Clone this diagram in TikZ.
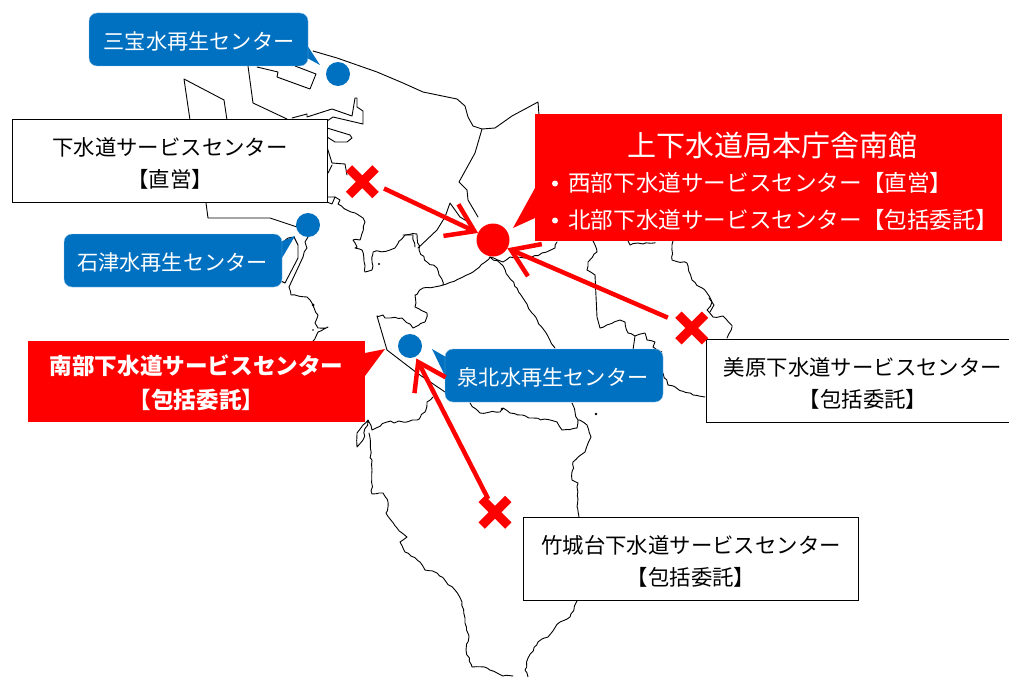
\documentclass[tikz,border=0pt]{standalone}
\usepackage{fontspec}
\setmainfont{Noto Sans CJK JP}
\usetikzlibrary{arrows.meta,shapes.misc,calc,decorations.pathmorphing}
\definecolor{wblue}{HTML}{0070C0}
\definecolor{wedge}{HTML}{8FC0E6}
\definecolor{hqred}{HTML}{FF0000}
\pgfmathsetseed{7}
\tikzset{
  x=1pt,y=-1pt,
  coast/.style={draw=black,line width=0.9pt,line join=round,line cap=round},
  jag/.style={coast,decorate,decoration={random steps,segment length=4pt,amplitude=1pt}},
  whitebox/.style={draw=black,fill=white,line width=1pt,inner sep=0},
  boxtext/.style={inner sep=0,align=center,text=black,font=\fontsize{21.4}{32}\selectfont},
  bluebox/.style={fill=wblue,draw=wedge,line width=0.4pt,rounded corners=8pt,inner sep=0},
  bluetext/.style={inner sep=0,text=white,font=\fontsize{21.2}{26}\selectfont},
  redbox/.style={fill=hqred,inner sep=0},
  bluetail/.style={fill=wblue},
  redtail/.style={fill=hqred},
  bluedot/.style={circle,fill=wblue,inner sep=0,outer sep=2pt,minimum size=24pt},
  reddot/.style={circle,fill=hqred,inner sep=0,outer sep=0,minimum size=33pt},
  xmark/.style={cross out,draw=hqred,line width=9pt,minimum size=26.6pt,inner sep=0,outer sep=0},
  flow/.style={draw=hqred,line width=4.5pt,-{Straight Barb[length=26pt,width=35pt,line width=4.5pt]}},
  plain/.style={inner sep=0,text=white,font=\fontsize{22.6}{26}\selectfont,anchor=west},
  bullet/.style={circle,fill=white,inner sep=0,minimum size=6pt},
}
\begin{document}
\begin{tikzpicture}
\useasboundingbox (0,0) rectangle (1009,677);
% ---- map ----
\draw[coast] (313,51) -- (337,58) -- (377,72) -- (403,83) -- (423,92) -- (457,99) -- (465,106) -- (468,117) -- (473,126) -- (482,129) -- (495,128) -- (512,116) -- (538,102) -- (539,115);
\draw[coast] (482,129) -- (475,153) -- (459,182) -- (467,190) -- (468,200) -- (478,217);
\draw[coast] (418,248) -- (437,230) -- (445,217) -- (450,203) -- (460,217) -- (470,223);
\draw[coast] (248,66) -- (253,103) -- (287,119);
\draw[coast] (257,67) -- (278,72) -- (277,77) -- (310,89) -- (316,74) -- (295,66);
\draw[coast] (292,118) -- (307,114) -- (307,117) -- (332,109) -- (352,116) -- (355,98) -- (357,98) -- (357,107) -- (363,111) -- (363,124) -- (333,117) -- (327,121);
\draw[coast] (327,128) -- (350,135) -- (352,138) -- (347,142) -- (335,142) -- (327,137);
\draw[coast] (190,120) -- (184,79) -- (224,100) -- (227,120);
\draw[coast] (327,147) -- (332,163) -- (345,164) -- (347,175);
\draw[coast] (332,165) -- (328,173);
\draw[coast] (327,197) -- (335,197) -- (332,204) -- (327,202);
\draw[jag] (335,197) -- (340,200) -- (338,204) -- (347,210) -- (363,218) -- (365,222) -- (360,240) -- (353,240) -- (357,247) -- (355,248) -- (362,250) -- (365,272) -- (372,270) -- (373,252) -- (390,250) -- (395,248) -- (405,235) -- (417,234) -- (419,250) -- (427,262) -- (437,268) -- (443,285);
\draw[jag] (403,235) -- (413,235) -- (415,247);
\draw[jag] (443,285) -- (463,277) -- (473,272) -- (490,257) -- (500,263) -- (517,288) -- (532,313) -- (555,348);
\draw[jag] (490,257) -- (503,262) -- (510,257) -- (515,258) -- (530,258) -- (542,253) -- (555,248) -- (557,242);
% south-west
\draw[jag] (443,285) -- (423,288) -- (415,295) -- (415,307) -- (427,313) -- (425,322) -- (413,328) -- (402,318) -- (385,318) -- (383,315) -- (377,316);
\draw[coast] (377,316) -- (387,350) -- (417,373) -- (445,392);
\draw[jag] (470,403) -- (480,413) -- (500,412) -- (503,408) -- (510,413) -- (533,418) -- (557,422) -- (562,430) -- (577,428) -- (578,420) -- (575,412) -- (572,403);
\draw[jag] (433,397) -- (427,402) -- (425,412) -- (417,420) -- (403,422) -- (387,422) -- (372,430) -- (368,420) -- (363,425) -- (357,433) -- (357,447) -- (363,440) -- (368,420);
\draw[jag] (369,433) -- (372,470) -- (372,494) -- (383,493) -- (388,502) -- (386,513) -- (397,528) -- (407,537) -- (400,542) -- (405,552) -- (420,562) -- (425,570) -- (437,573) -- (455,590) -- (462,602) -- (465,623) -- (469,637) -- (466,650) -- (472,667) -- (487,668) -- (503,676) -- (513,676);
\draw[jag] (528,677) -- (525,670) -- (528,658) -- (538,642) -- (548,637) -- (560,622) -- (570,617) -- (577,601);
\draw[jag] (579,517) -- (577,507) -- (578,483) -- (572,480) -- (573,462) -- (585,452) -- (591,437) -- (587,425) -- (578,420);
% east
\draw[jag] (593,241) -- (597,252) -- (588,262) -- (587,270) -- (595,275);
\draw[coast] (595,275) -- (597,317) -- (600,328);
\draw[jag] (600,328) -- (620,320) -- (625,322) -- (628,333) -- (635,336) -- (645,333) -- (647,340) -- (655,342) -- (653,347) -- (662,352);
\draw[coast] (635,336) -- (633,350);
\draw[jag] (663,373) -- (668,385) -- (693,395) -- (705,397);
\draw[jag] (628,241) -- (630,245) -- (638,243) -- (643,244) -- (653,243) -- (654,241);
\draw[jag] (673,241) -- (672,260) -- (687,263) -- (692,280) -- (707,293) -- (712,302) -- (707,310) -- (713,317) -- (723,316) -- (732,327) -- (727,338);
\draw[coast] (709,298) -- (714,305) -- (710,312);
% west coast
\draw[coast] (206,203) -- (208,218) -- (270,218) -- (297,227);
\draw[jag] (308,237) -- (305,242) -- (307,248) -- (303,257);
\draw[coast] (303,257) -- (289,287);
\draw[jag] (289,287) -- (291,295) -- (307,297) -- (313,305) -- (318,315) -- (315,323) -- (318,328) -- (328,327) -- (318,332) -- (313,341);
\draw[coast] (283,242) -- (288,238) -- (294,237) -- (298,245) -- (298,258) -- (285,283) -- (281,281);
\fill (313,305) circle (1.5pt) (313,330) circle (0.9pt) (379,264) circle (1.2pt) (596,414) circle (1.3pt) (502,409) circle (1.3pt);
% ---- white boxes ----
\node[whitebox,minimum width=315pt,minimum height=83pt] (sc) at (170,160.5) {};
\node[boxtext] (sct) at (170,163.5) {下水道サービスセンター\\【直営】};
\node[whitebox,minimum width=304pt,minimum height=83pt,anchor=north west] (mihara) at (705.5,338.5) {};
\node[boxtext] (miharat) at (863,383) {美原下水道サービスセンター\\【包括委託】};
\node[whitebox,minimum width=335.5pt,minimum height=83pt] (take) at (691,558.5) {};
\node[boxtext] (taket) at (691,561.5) {竹城台下水道サービスセンター\\【包括委託】};
% ---- red callouts ----
\fill[redtail] (535,188) -- (513,228) -- (535,218) -- cycle;
\node[redbox,minimum width=467pt,minimum height=127pt] (hqbox) at (768.5,177.5) {};
\node[inner sep=0,text=white,font=\fontsize{29}{34}\selectfont] (hqt) at (772.5,145) {上下水道局本庁舎南館};
\node[bullet] (b1) at (555,183.5) {};
\node[plain] (l1) at (568,182.5) {西部下水道サービスセンター【直営】};
\node[bullet] (b2) at (555,220.5) {};
\node[plain] (l2) at (568,219.5) {北部下水道サービスセンター【包括委託】};
\fill[redtail] (365,353) -- (385,349) -- (365,376) -- cycle;
\node[redbox,minimum width=337pt,minimum height=81pt] (south) at (196.5,381.5) {};
\node[inner sep=0,text=white,align=center,font=\bfseries\fontsize{22.6}{34}\selectfont] (southt) at (196.5,383) {南部下水道サービスセンター\\【包括委託】};
% ---- blue callouts ----
\fill[bluetail] (307,45) -- (320,65) -- (307,58) -- cycle;
\node[bluebox,minimum width=219pt,minimum height=53pt] (sanpo) at (198.5,39.5) {};
\node[bluetext] (sanpot) at (199,41) {三宝水再生センター};
\fill[bluetail] (280,242) -- (295,236) -- (282,258) -- cycle;
\node[bluebox,minimum width=218pt,minimum height=53pt] (ishizu) at (173,260.5) {};
\node[bluetext] (ishizut) at (172.5,262) {石津水再生センター};
\fill[bluetail] (446,357) -- (432,349) -- (446,378) -- cycle;
\node[bluebox,minimum width=218pt,minimum height=53pt] (senboku) at (554,375.5) {};
\node[bluetext] (senbokut) at (553,377) {泉北水再生センター};
% ---- dots ----
\node[bluedot] (d1) at (338,74) {};
\node[bluedot] (d2) at (308,225) {};
\node[bluedot] (d3) at (410,346) {};
\node[reddot] (hq) at (493,240) {};
% ---- crosses ----
\node[xmark] (x1) at (362.3,181.7) {};
\node[xmark] (x2) at (691.7,328) {};
\node[xmark] (x3) at (495,512.3) {};
% ---- arrows ----
\draw[flow,shorten <=24pt] ($(x1.center)+(0,-3.5)$) -- (hq);
\draw[flow,shorten <=26pt] (x2.center) -- (hq.-30);
\draw[flow,shorten <=15pt] (x3.center) -- (d3);
\end{tikzpicture}
\end{document}
